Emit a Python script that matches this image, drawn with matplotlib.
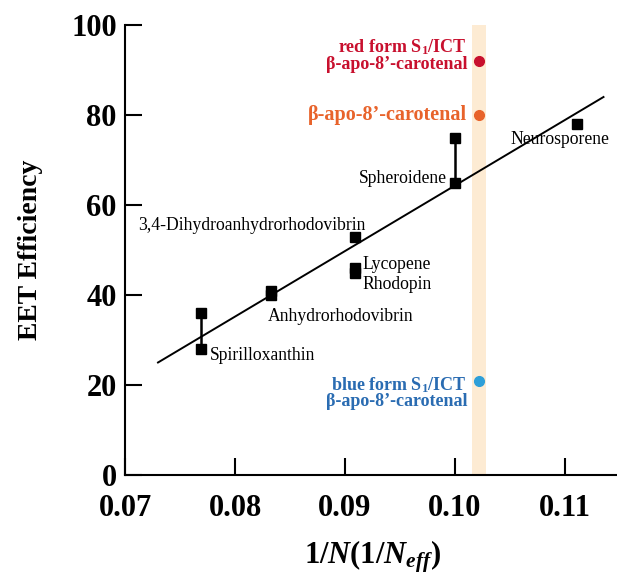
import matplotlib
matplotlib.use('Agg')
import matplotlib.pyplot as plt

plt.rcParams['font.family'] = ['Liberation Serif', 'DejaVu Serif']
plt.rcParams['mathtext.fontset'] = 'custom'
plt.rcParams['mathtext.rm'] = 'Liberation Serif:bold'
plt.rcParams['mathtext.it'] = 'Liberation Serif:italic:bold'
plt.rcParams['mathtext.bf'] = 'Liberation Serif:bold'

# carotenoid data (1/N vs EET efficiency)
carot_x = [0.0769, 0.0769, 0.0833, 0.0833, 0.0909, 0.0909, 0.0909, 0.1000, 0.1000, 0.1111]
carot_y = [36, 28, 40, 41, 53, 46, 45, 75, 65, 78]

# ranges drawn as vertical bars
range_x = [0.0769, 0.1000]
range_lo = [28, 65]
range_hi = [36, 75]

# linear fit end points
fit_x = [0.073, 0.1135]
fit_y = [25.0, 84.0]

# beta-apo-8'-carotenal points
apo_x = 0.1022
apo_red = 92
apo_orange = 80
apo_blue = 21
band = (0.1015, 0.1028)

fig = plt.figure(figsize=(6.17, 5.74), dpi=100)
ax = fig.add_axes([125 / 617, 99 / 574, 495 / 617, 450 / 574])

ax.axvspan(band[0], band[1], color='#fdebd3', lw=0, zorder=0)
ax.plot(fit_x, fit_y, color='black', lw=1.4, zorder=2)
ax.vlines(range_x, range_lo, range_hi, color='black', lw=1.8, zorder=2)
ax.plot(carot_x, carot_y, 's', color='black', ms=7, zorder=3)

ax.plot(apo_x, apo_red, 'o', color='#c8102e', ms=7, zorder=3)
ax.plot(apo_x, apo_orange, 'o', color='#e8632b', ms=7, zorder=3)
ax.plot(apo_x, apo_blue, 'o', color='#2e9fd9', ms=7, zorder=3)

ax.text(0.1011, 93.3, 'red form S$_\\mathregular{1}$/ICT\nβ-apo-8’-carotenal', color='#c8102e',
        fontsize=13, fontweight='bold', ha='right', va='center', linespacing=0.85)
ax.text(0.1011, 80, 'β-apo-8’-carotenal', color='#e8632b',
        fontsize=14.5, fontweight='bold', ha='right', va='center')
ax.text(0.1011, 18.2, 'blue form S$_\\mathregular{1}$/ICT\nβ-apo-8’-carotenal', color='#2a6cb2',
        fontsize=13, fontweight='bold', ha='right', va='center', linespacing=0.85)

lab = dict(fontsize=12.7, color='black')
ax.text(0.1050, 74.5, 'Neurosporene', ha='left', va='center', **lab)
ax.text(0.0993, 65.8, 'Spheroidene', ha='right', va='center', **lab)
ax.text(0.0712, 55.5, '3,4-Dihydroanhydrorhodovibrin', ha='left', va='center', **lab)
ax.text(0.0916, 46.8, 'Lycopene', ha='left', va='center', **lab)
ax.text(0.0916, 42.4, 'Rhodopin', ha='left', va='center', **lab)
ax.text(0.0830, 35.3, 'Anhydrorhodovibrin', ha='left', va='center', **lab)
ax.text(0.0777, 26.5, 'Spirilloxanthin', ha='left', va='center', **lab)

ax.set_xlim(0.07, 0.115)
ax.set_ylim(0, 100)
ax.set_xticks([0.07, 0.08, 0.09, 0.10, 0.11])
ax.set_xticklabels(['0.07', '0.08', '0.09', '0.10', '0.11'])
ax.set_yticks([0, 20, 40, 60, 80, 100])

for s in ['top', 'right']:
    ax.spines[s].set_visible(False)
for s in ['left', 'bottom']:
    ax.spines[s].set_linewidth(1.5)
ax.tick_params(direction='in', length=12, width=1.5, labelsize=22)
ax.tick_params(axis='x', pad=14)
ax.tick_params(axis='y', pad=6)
for t in ax.get_xticklabels() + ax.get_yticklabels():
    t.set_fontweight('bold')

ax.set_ylabel('EET Efficiency', fontsize=20, fontweight='bold', labelpad=20)
ax.set_xlabel('1/$N$(1/$N_{eff}$)', fontsize=22, fontweight='bold', labelpad=11)

fig.savefig('out.png', dpi=100)
